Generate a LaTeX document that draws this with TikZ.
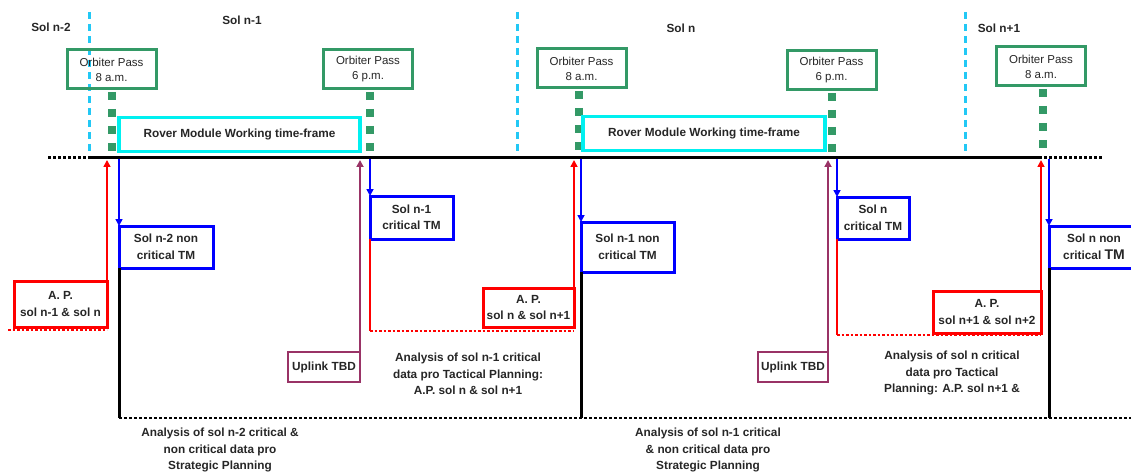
\documentclass[tikz,border=0pt]{standalone}
\usepackage{fontspec}
\setmainfont{Liberation Sans}
\usetikzlibrary{arrows.meta}
\definecolor{grn}{HTML}{339966}
\definecolor{cyn}{HTML}{00F0F0}
\definecolor{dcy}{HTML}{22C8F5}
\definecolor{blu}{HTML}{0000FF}
\definecolor{rd}{HTML}{FF0000}
\definecolor{prp}{HTML}{993366}
\definecolor{txt}{HTML}{262626}
\tikzset{
  lbl/.style={font=\fontsize{11.8}{16.5}\selectfont\bfseries, text=txt, align=center, inner sep=0, outer sep=0},
  box/.style={lbl, rectangle, line width=3, minimum width=#1},
  orb/.style={draw=grn, line width=3, font=\fontsize{11.5}{15}\selectfont, text=txt, align=center, inner sep=0, outer sep=0, minimum width=89, minimum height=39},
  rover/.style={lbl, draw=cyn, line width=3.5, minimum height=34, minimum width=241},
  bluebox/.style={box=#1, draw=blu},
  redbox/.style={box=#1, draw=rd},
  upbox/.style={box=#1, draw=prp, line width=2.5, minimum height=30},
  gdot/.style={draw=grn, line width=8, dash pattern=on 8 off 9},
  sdash/.style={draw=dcy, line width=3, dash pattern=on 7 off 5},
  tl/.style={draw=black, line width=3},
  tldot/.style={draw=black, line width=3, dash pattern=on 3 off 2},
  blkln/.style={draw=black, line width=3},
  blkdot/.style={draw=black, line width=2.5, dash pattern=on 2.5 off 2.5},
  bluarr/.style={draw=blu, line width=1.6, -{Triangle[width=7,length=7]}},
  redarr/.style={draw=rd, line width=1.6, -{Triangle[width=7,length=7]}},
  prparr/.style={draw=prp, line width=2, -{Triangle[width=7,length=7]}},
  redln/.style={draw=rd, line width=2},
  reddot/.style={draw=rd, line width=2.5, dash pattern=on 2.5 off 2},
}
\begin{document}
\begin{tikzpicture}[x=1pt,y=-1pt]
\useasboundingbox (0,0) rectangle (1131,473);
% sol labels
\node[lbl] (s1) at (51,27) {Sol n-2};
\node[lbl] (s2) at (242,20) {Sol n-1};
\node[lbl] (s3) at (681,28) {Sol n};
\node[lbl] (s4) at (999,28) {Sol n+1};
% sol separators
\draw[sdash] (89,12) -- (89,158);
\draw[sdash] (517,12) -- (517,158);
\draw[sdash] (965,12) -- (965,158);
% timeline
\draw[tldot] (48,158) -- (88,158);
\draw[tl] (88,158) -- (1042,158);
\draw[tldot] (1044,158) -- (1103,158);
% orbiter passes
\node[orb] (o1) at (111.5,69.5) {Orbiter Pass\\8 a.m.};
\node[orb] (o2) at (368,69.5) {Orbiter Pass\\6 p.m.};
\node[orb] (o3) at (581.5,68.5) {Orbiter Pass\\8 a.m.};
\node[orb] (o4) at (831.5,70.5) {Orbiter Pass\\6 p.m.};
\node[orb] (o5) at (1041,66.5) {Orbiter Pass\\8 a.m.};
\draw[gdot] ([yshift=-3]o1.south) -- ++(0,59);
\draw[gdot] ([xshift=2,yshift=-3]o2.south) -- ++(0,59);
\draw[gdot] ([xshift=-3,yshift=-3]o3.south) -- ++(0,59);
\draw[gdot] ([yshift=-3]o4.south) -- ++(0,59);
\draw[gdot] ([xshift=2,yshift=-3]o5.south) -- ++(0,59);
% rover frames
\node[rover] (rv1) at (239.5,134.5) {Rover Module Working time-frame};
\node[rover, minimum width=242] (rv2) at (704,133.5) {Rover Module Working time-frame};
% timeline points
\coordinate (ta) at (107,160);
\coordinate (tb) at (119,159);
\coordinate (tc) at (360,160);
\coordinate (td) at (370,159);
\coordinate (te) at (574,160);
\coordinate (tf) at (581,159);
\coordinate (tg) at (828,160);
\coordinate (th) at (837,159);
\coordinate (ti) at (1041,160);
\coordinate (tj) at (1049,159);
% boxes
\node[redbox=93, minimum height=46] (ra) at (60.5,304) {A. P.\\sol n-1 \& sol n};
\node[bluebox=94, minimum height=42] (ba) at (166,247) {Sol n-2 non\\critical TM};
\node[bluebox=83, minimum height=43] (bb) at (411.5,217.5) {Sol n-1\\critical TM};
\node[redbox=91, minimum height=39] (rb) at (528.5,307.5) {A. P.\\sol n \& sol n+1};
\node[bluebox=93, minimum height=50] (bc) at (627.5,247) {Sol n-1 non\\critical TM};
\node[upbox=72] (u1) at (324,367) {Uplink TBD};
\node[upbox=70] (u2) at (793,367) {Uplink TBD};
\node[bluebox=72, minimum height=42] (bd) at (873,218) {Sol n\\critical TM};
\node[redbox=108, minimum height=42] (rc) at (987,312) {A. P.\\sol n+1 \& sol n+2};
\node[bluebox=90, minimum height=42] (be) at (1094,247) {Sol n non\\critical {\fontsize{14}{16}\selectfont TM}};
% connectors
\draw[redarr] (ra.north east) -- (ta);
\draw[bluarr] (tb) -- (ba.north west);
\draw[prparr] (u1.north east) -- (tc);
\draw[bluarr] (td) -- (bb.north west);
\draw[redarr] (rb.north east) -- (te);
\draw[bluarr] (tf) -- (bc.north west);
\draw[prparr] (u2.north east) -- (tg);
\draw[bluarr] (th) -- (bd.north west);
\draw[redarr] (rc.north east) -- (ti);
\draw[bluarr] (tj) -- (be.north west);
% red dotted tactical lines
\coordinate (r1s) at (8,330);
\coordinate (r1e) at (107,330);
\draw[reddot] (r1s) -- (r1e);
\coordinate (r2) at (370,331);
\coordinate (r2e) at (574,331);
\draw[redln] (bb.south west) -- (r2);
\draw[reddot] (r2) -- (r2e);
\coordinate (r3) at (837,335);
\coordinate (r3e) at (1041,335);
\draw[redln] (bd.south west) -- (r3);
\draw[reddot] (r3) -- (r3e);
% black strategic lines
\coordinate (k1) at (119,418);
\coordinate (k2) at (581,418);
\coordinate (k3) at (1049,418);
\coordinate (kend) at (1131,418);
\draw[blkln] (ba.south west) -- (k1);
\draw[blkln] (bc.south west) -- (k2);
\draw[blkln] (be.south west) -- (k3);
\draw[blkdot] (k1) -- (kend);
% analysis texts
\node[lbl] (an1) at (220,450) {Analysis of sol n-2 critical \&\\non critical data pro\\Strategic Planning};
\node[lbl] (an2) at (468,374) {Analysis of sol n-1 critical\\data pro Tactical Planning:\\A.P. sol n \& sol n+1};
\node[lbl] (an3) at (708,450) {Analysis of sol n-1 critical\\\& non critical data pro\\Strategic Planning};
\node[lbl] (an4) at (952,373) {Analysis of sol n critical\\data pro Tactical\\Planning: A.P. sol n+1 \&};
\end{tikzpicture}
\end{document}
